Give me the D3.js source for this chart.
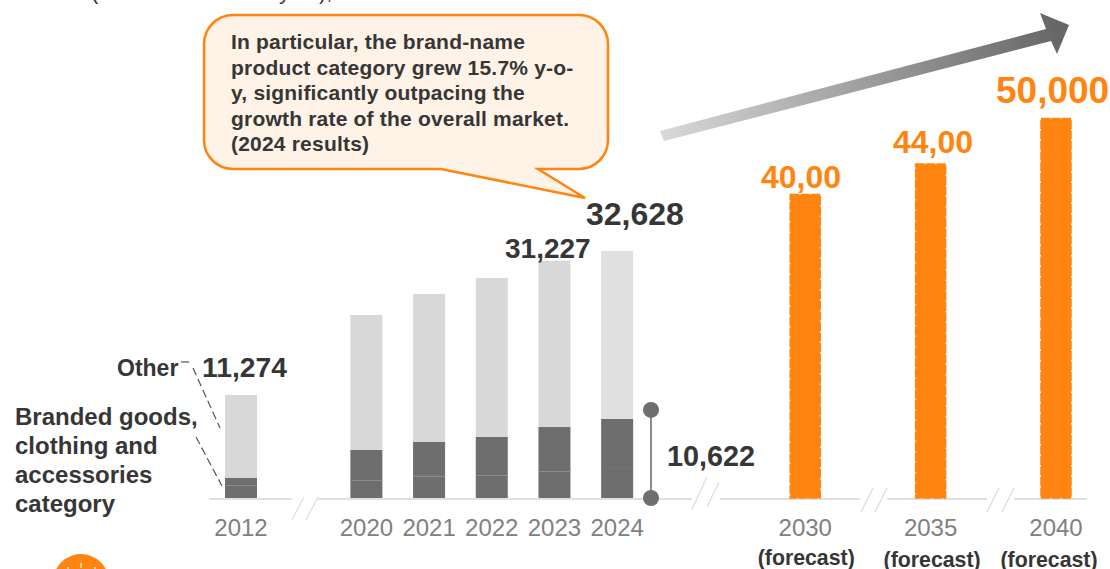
<!DOCTYPE html>
<html>
<head>
<meta charset="utf-8">
<title>Market size chart</title>
<script src="https://cdnjs.cloudflare.com/ajax/libs/d3/7.8.5/d3.min.js"></script>
<style>
	html, body { margin: 0; padding: 0; background: #fff; overflow: hidden; }
	text { font-family: "Liberation Sans", Arial, sans-serif; }
</style>
</head>
<body>
<svg id="chart" width="1110" height="569"></svg>
<script>
// slot = position on the broken x axis, the gaps are where the axis is cut
var histYears = ["2012", "2020", "2021", "2022", "2023", "2024"];
var histSlots = [0, 2, 3, 4, 5, 6];
var brandedLower = [1710, 2370, 2900, 3030, 3550, 4080];
var brandedTotal = [2630, 6320, 7370, 8030, 9340, 10400];
// 2012 is not drawn to scale in the original, height as seen in the picture
var marketTotal = [13550, 24080, 26840, 28950, 31227, 32500];

var foreYears = ["2030", "2035", "2040"];
var foreSlots = [9, 11, 13];
var foreValues = [40000, 44000, 50000];
var foreLabels = ["40,00", "44,00", "50,000"];

var calloutLines = [
	"In particular, the brand-name",
	"product category grew 15.7% y-o-",
	"y, significantly outpacing the",
	"growth rate of the overall market.",
	"(2024 results)"
];
var brandedLabel = ["Branded goods,", "clothing and", "accessories", "category"];

var orange = "#ff8410", darkGrey = "#6e6e6e", textCol = "#363636";

var svg = d3.select("#chart");
var xScale = d3.scaleLinear().domain([0, 13]).range([241, 1056]);
var yScale = d3.scaleLinear().domain([0, 50000]).range([498, 118]);
var barW = 32;

/* gradient of the trend arrow */
var grad = svg.append("defs").append("linearGradient")
	.attr("id", "arrowGrad")
	.attr("gradientUnits", "userSpaceOnUse")
	.attr("x1", 661).attr("y1", 135)
	.attr("x2", 1060).attr("y2", 30);
grad.append("stop").attr("offset", 0).attr("stop-color", "#d8d8d8");
grad.append("stop").attr("offset", 1).attr("stop-color", "#666666");

svg.append("path")
	.attr("d", "M660,131 L1046,29 L1040,13 L1069,25 L1057,54 L1051,41 L664,141 Z")
	.style("fill", "url(#arrowGrad)");

/* text cut off by the top edge, only the descenders are visible */
var cutOff = svg.append("g").style("fill", textCol).style("font-size", "22px");
cutOff.append("text").attr("x", 91).attr("y", -1).text("(");
cutOff.append("text").attr("x", 279).attr("y", -1).text("y");
cutOff.append("text").attr("x", 319).attr("y", -1).text("),");

/* broken axis */
var axisParts = [[209, 292], [318, 692], [720, 860], [887, 987], [1014, 1087]];
svg.selectAll(".axisPart")
	.data(axisParts)
	.enter().append("line")
	.attr("class", "axisPart")
	.attr("x1", function(d) { return d[0]; })
	.attr("x2", function(d) { return d[1]; })
	.attr("y1", 499).attr("y2", 499)
	.attr("stroke", "#e0e0e0").attr("stroke-width", 2);

var breakMarks = [
	[292, 520, 304, 497], [306, 520, 318, 497],
	[692, 509, 707, 477], [707, 507, 719, 482],
	[861, 512, 873, 488], [875, 512, 887, 488],
	[987, 512, 999, 488], [1002, 512, 1014, 488]
];
svg.selectAll(".breakMark")
	.data(breakMarks)
	.enter().append("line")
	.attr("class", "breakMark")
	.attr("x1", function(d) { return d[0]; })
	.attr("y1", function(d) { return d[1]; })
	.attr("x2", function(d) { return d[2]; })
	.attr("y2", function(d) { return d[3]; })
	.attr("stroke", "#dcdcdc").attr("stroke-width", 1.2);

/* stacked bars */
var stackRows = histYears.map(function(y, i) {
	return {
		year: y,
		slot: histSlots[i],
		lower: brandedLower[i],
		upper: brandedTotal[i] - brandedLower[i],
		other: marketTotal[i] - brandedTotal[i]
	};
});
var series = d3.stack().keys(["lower", "upper", "other"])(stackRows);

svg.selectAll(".layer")
	.data(series)
	.enter().append("g")
	.attr("class", "layer")
	.selectAll("rect")
	.data(function(d) {
		return d.map(function(p) { return { key: d.key, p: p }; });
	})
	.enter().append("rect")
	.attr("x", function(d) { return xScale(d.p.data.slot) - barW / 2; })
	.attr("width", barW)
	.attr("y", function(d) { return yScale(d.p[1]); })
	.attr("height", function(d) { return yScale(d.p[0]) - yScale(d.p[1]); })
	.style("fill", function(d) {
		if (d.key != "other") return darkGrey;
		return d.p.data.year == "2024" ? "#e0e0e0" : "#d8d8d8";
	});

// thin line between the two dark segments
svg.selectAll(".divider")
	.data(stackRows)
	.enter().append("line")
	.attr("class", "divider")
	.attr("x1", function(d) { return xScale(d.slot) - barW / 2; })
	.attr("x2", function(d) { return xScale(d.slot) + barW / 2; })
	.attr("y1", function(d) { return yScale(d.lower) + 0.5; })
	.attr("y2", function(d) { return yScale(d.lower) + 0.5; })
	.attr("stroke", function(d) { return d.year == "2024" ? "#747474" : "#8c8c8c"; })
	.attr("stroke-width", 1);

/* forecast bars, dashed edge */
svg.selectAll(".foreBar")
	.data(foreValues)
	.enter().append("rect")
	.attr("class", "foreBar")
	.attr("x", function(d, i) { return xScale(foreSlots[i]) - barW / 2 + 1; })
	.attr("width", barW - 2)
	.attr("y", function(d) { return yScale(d) + 0.5; })
	.attr("height", function(d) { return yScale(0) - yScale(d) - 0.5; })
	.style("fill", orange)
	.attr("stroke", orange)
	.attr("stroke-width", 1.5)
	.attr("stroke-dasharray", "9,1.5");

/* year labels */
var allYears = histYears.concat(foreYears);
var allSlots = histSlots.concat(foreSlots);
svg.selectAll(".yearLabel")
	.data(allYears)
	.enter().append("text")
	.attr("class", "yearLabel")
	.attr("x", function(d, i) { return xScale(allSlots[i]); })
	.attr("y", 536)
	.attr("text-anchor", "middle")
	.style("font-size", "24px")
	.style("fill", "#808080")
	.text(function(d) { return d; });

var forecastY = [565, 567, 567];
var forecastShift = [1, 1.5, -7];
svg.selectAll(".foreNote")
	.data(foreYears)
	.enter().append("text")
	.attr("class", "foreNote")
	.attr("x", function(d, i) { return xScale(foreSlots[i]) + forecastShift[i]; })
	.attr("y", function(d, i) { return forecastY[i]; })
	.attr("text-anchor", "middle")
	.style("font-size", "21.3px")
	.style("font-weight", "bold")
	.style("fill", textCol)
	.text("(forecast)");

/* value labels */
function boldLabel(str, x, y, size, col) {
	svg.append("text")
		.attr("x", x).attr("y", y)
		.style("font-size", size + "px")
		.style("font-weight", "bold")
		.style("fill", col)
		.text(str);
}
boldLabel("11,274", 202, 377, 28.3, textCol);
boldLabel("31,227", 505, 258, 28, textCol);
boldLabel("32,628", 586, 225, 32, textCol);
boldLabel("10,622", 667, 466, 28.8, textCol);
var foreLabelPos = [[761, 188, 32], [893, 153, 32], [996, 103, 37]];
foreLabels.forEach(function(str, i) {
	boldLabel(str, foreLabelPos[i][0], foreLabelPos[i][1], foreLabelPos[i][2], orange);
});

/* range marker next to 2024 */
svg.append("line")
	.attr("x1", 651).attr("x2", 651)
	.attr("y1", yScale(brandedTotal[5]) - 9).attr("y2", yScale(0))
	.attr("stroke", "#8c8c8c").attr("stroke-width", 2);
[yScale(brandedTotal[5]) - 9, yScale(0)].forEach(function(cy) {
	svg.append("circle")
		.attr("cx", 651).attr("cy", cy).attr("r", 8)
		.style("fill", darkGrey);
});

/* left hand labels */
boldLabel("Other", 117, 376, 23, textCol);
brandedLabel.forEach(function(str, i) {
	boldLabel(str, 15, 425 + i * 29, 24, textCol);
});
var leaders = [
	[181, 362, 189, 362],
	[193, 368, 220, 428],
	[196, 437, 222, 486]
];
svg.selectAll(".leader")
	.data(leaders)
	.enter().append("line")
	.attr("class", "leader")
	.attr("x1", function(d) { return d[0]; })
	.attr("y1", function(d) { return d[1]; })
	.attr("x2", function(d) { return d[2]; })
	.attr("y2", function(d) { return d[3]; })
	.attr("stroke", "#555555").attr("stroke-width", 1.2)
	.attr("stroke-dasharray", "8,4");

/* callout */
svg.append("path")
	.attr("d", "M233,15 H579 A29,29 0 0 1 608,44 V140 A29,29 0 0 1 579,169 H538 L585,198 L441,169 H233 A29,29 0 0 1 204,140 V44 A29,29 0 0 1 233,15 Z")
	.style("fill", "#fff2e6")
	.attr("stroke", orange)
	.attr("stroke-width", 2.5);
svg.selectAll(".calloutLine")
	.data(calloutLines)
	.enter().append("text")
	.attr("class", "calloutLine")
	.attr("x", 231)
	.attr("y", function(d, i) { return 49 + i * 25.5; })
	.style("font-size", "21px")
	.style("letter-spacing", "0.2px")
	.style("font-weight", "bold")
	.style("fill", textCol)
	.text(function(d) { return d; });

/* icon at the bottom, mostly cut off */
svg.append("circle")
	.attr("cx", 81).attr("cy", 582).attr("r", 28)
	.style("fill", orange);
[[81, 563, 81, 568], [68, 567, 68, 569], [95, 567, 95, 569]].forEach(function(t) {
	svg.append("line")
		.attr("x1", t[0]).attr("y1", t[1])
		.attr("x2", t[2]).attr("y2", t[3])
		.attr("stroke", "#ffe9d2").attr("stroke-width", 1.5);
});
</script>
</body>
</html>
